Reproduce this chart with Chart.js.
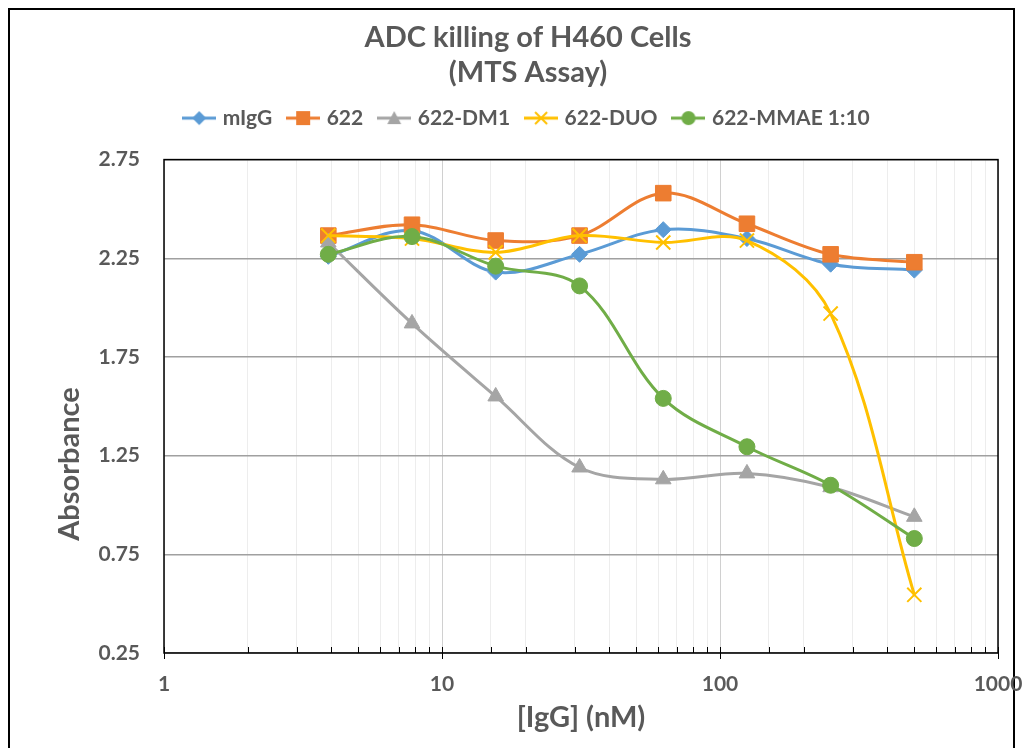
<!DOCTYPE html>
<html>
<head>
<meta charset="utf-8">
<title>ADC killing of H460 Cells</title>
<script src="https://cdn.jsdelivr.net/npm/chart.js@4.4.1/dist/chart.umd.min.js"></script>
<style>
  html, body { margin: 0; padding: 0; background: #fff; }
  #wrap { position: relative; width: 1023px; height: 748px; }
</style>
</head>
<body>
<div id="wrap"><canvas id="adcChart" width="1023" height="748"></canvas></div>
<script>
// concentrations of IgG (nM)
const concentrations = [3.9, 7.8, 15.6, 31.25, 62.5, 125, 250, 500];

// absorbance per series
const mIgG    = [2.26, 2.39, 2.18, 2.27, 2.395, 2.35, 2.22, 2.19];
const ab622   = [2.365, 2.42, 2.34, 2.365, 2.58, 2.425, 2.27, 2.23];
const ab622DM1  = [2.33, 1.92, 1.55, 1.19, 1.13, 1.16, 1.09, 0.94];
const ab622DUO  = [2.365, 2.35, 2.28, 2.365, 2.33, 2.34, 1.97, 0.545];
const ab622MMAE = [2.27, 2.36, 2.21, 2.11, 1.54, 1.295, 1.10, 0.83];

const seriesNames = ['mIgG', '622', '622-DM1', '622-DUO', '622-MMAE 1:10'];
const xTickLabels = [1, 10, 100, 1000];
const yTickValues = [0.25, 0.75, 1.25, 1.75, 2.25, 2.75];

const textGray = '#595959';
const fontFamily = 'Lato, "Open Sans", sans-serif';

function toPoints(values) {
    return concentrations.map((c, i) => ({ x: c, y: values[i] }));
}

// small legend icon: a line with the marker in the middle (like Excel)
function legendIcon(color, shape) {
    const c = document.createElement('canvas');
    c.width = 34;
    c.height = 20;
    const g = c.getContext('2d');
    g.strokeStyle = color;
    g.fillStyle = color;
    g.lineWidth = 3;
    g.beginPath();
    g.moveTo(0, 10);
    g.lineTo(34, 10);
    g.stroke();
    g.beginPath();
    if (shape === 'rectRot') {
        g.moveTo(17, 3); g.lineTo(24, 10); g.lineTo(17, 17); g.lineTo(10, 10);
        g.closePath(); g.fill();
    } else if (shape === 'rect') {
        g.fillRect(10, 3, 14, 14);
    } else if (shape === 'triangle') {
        g.moveTo(17, 3); g.lineTo(24, 16); g.lineTo(10, 16);
        g.closePath(); g.fill();
    } else if (shape === 'crossRot') {
        g.lineWidth = 2;
        g.moveTo(11, 4); g.lineTo(23, 16);
        g.moveTo(23, 4); g.lineTo(11, 16);
        g.stroke();
    } else {
        g.arc(17, 10, 7, 0, Math.PI * 2);
        g.fill();
    }
    return c;
}

const colors = ['#5B9BD5', '#ED7D31', '#A5A5A5', '#FFC000', '#70AD47'];
const shapes = ['rectRot', 'rect', 'triangle', 'crossRot', 'circle'];
const radii = [8, 11, 9, 10, 8];
const allValues = [mIgG, ab622, ab622DM1, ab622DUO, ab622MMAE];

const datasets = allValues.map((vals, i) => ({
    label: seriesNames[i],
    data: toPoints(vals),
    borderColor: colors[i],
    backgroundColor: colors[i],
    borderWidth: 3,
    pointStyle: shapes[i],
    pointRadius: radii[i],
    pointHoverRadius: radii[i],
    pointBorderWidth: shapes[i] === 'crossRot' ? 2 : 1,
    tension: 0.35,
    order: 5 - i // later series on top, like Excel
}));

// frame, plot border, minor ticks, y title and extra room under the legend
const extrasPlugin = {
    id: 'extras',
    beforeLayout(chart) {
        const lg = chart.legend;
        if (lg && !lg._extraRoom) {
            const origFit = lg.fit.bind(lg);
            lg.fit = function () { origFit(); this.height += 21; };
            lg._extraRoom = true;
        }
    },
    beforeDraw(chart) {
        const ctx = chart.ctx;
        ctx.save();
        ctx.fillStyle = '#fff';
        ctx.fillRect(0, 0, chart.width, chart.height);
        ctx.strokeStyle = '#000';
        ctx.lineWidth = 2;
        ctx.strokeRect(9, 9, chart.width - 18, chart.height + 20);
        ctx.restore();
    },
    beforeDatasetsDraw(chart) {
        const ctx = chart.ctx;
        const a = chart.chartArea;
        const xs = chart.scales.x;
        ctx.save();
        ctx.strokeStyle = '#000';
        ctx.lineWidth = 1.5;
        ctx.strokeRect(a.left, a.top, a.right - a.left, a.bottom - a.top);
        ctx.lineWidth = 1;
        xs.ticks.forEach(t => {
            const px = Math.round(xs.getPixelForValue(t.value)) + 0.5;
            const major = xTickLabels.includes(t.value);
            ctx.beginPath();
            ctx.moveTo(px, a.bottom - 6);
            ctx.lineTo(px, a.bottom + (major ? 6 : 0));
            ctx.stroke();
        });
        ctx.restore();
    },
    afterDraw(chart) {
        const ctx = chart.ctx;
        ctx.save();
        ctx.translate(70, 464);
        ctx.rotate(-Math.PI / 2);
        ctx.font = 'bold 29px ' + fontFamily;
        ctx.fillStyle = textGray;
        ctx.textAlign = 'center';
        ctx.textBaseline = 'middle';
        ctx.fillText('Absorbance', 0, 0);
        ctx.restore();
    }
};

const ctx = document.getElementById('adcChart').getContext('2d');
new Chart(ctx, {
    type: 'line',
    data: { datasets: datasets },
    plugins: [extrasPlugin],
    options: {
        responsive: false,
        animation: false,
        layout: { padding: { left: 58, right: 25, top: 0, bottom: 0 } },
        plugins: {
            title: {
                display: true,
                text: ['ADC killing of H460 Cells', '(MTS Assay)'],
                color: textGray,
                font: { family: fontFamily, size: 29, weight: 'bold', lineHeight: 1.2 },
                padding: { top: 20, bottom: 0 }
            },
            legend: {
                display: true,
                labels: {
                    color: textGray,
                    font: { family: fontFamily, size: 21, weight: 'bold' },
                    usePointStyle: true,
                    pointStyleWidth: 26,
                    boxHeight: 21,
                    padding: 18,
                    sort: (a, b) => a.datasetIndex - b.datasetIndex,
                    generateLabels(chart) {
                        const items = Chart.defaults.plugins.legend.labels.generateLabels(chart);
                        items.forEach(it => {
                            it.pointStyle = legendIcon(colors[it.datasetIndex], shapes[it.datasetIndex]);
                        });
                        return items;
                    }
                }
            },
            tooltip: { enabled: false }
        },
        scales: {
            x: {
                type: 'logarithmic',
                min: 1,
                max: 1000,
                afterFit(scale) {
                    scale.height = 95;
                    scale.paddingLeft = 0;
                    scale.paddingRight = 0;
                },
                border: { display: false },
                grid: {
                    drawTicks: false,
                    color: c => xTickLabels.includes(c.tick.value) ? '#D0D0D0' : '#EDEDED',
                    lineWidth: 1
                },
                ticks: {
                    autoSkip: false,
                    maxRotation: 0,
                    padding: 19,
                    color: textGray,
                    font: { family: fontFamily, size: 21, weight: 'bold' },
                    callback: v => xTickLabels.includes(v) ? String(v) : ''
                },
                title: {
                    display: true,
                    text: '[IgG] (nM)',
                    color: textGray,
                    font: { family: fontFamily, size: 29, weight: 'bold' },
                    padding: { top: 0, bottom: 13 }
                }
            },
            y: {
                min: 0.25,
                max: 2.75,
                afterFit(scale) { scale.width = 106; },
                afterBuildTicks(scale) { scale.ticks = yTickValues.map(v => ({ value: v })); },
                border: { display: false },
                grid: { drawTicks: false, color: '#A0A0A0', lineWidth: 1.5 },
                ticks: {
                    padding: 24,
                    color: textGray,
                    font: { family: fontFamily, size: 21, weight: 'bold' },
                    callback: v => v.toFixed(2)
                }
            }
        }
    }
});
</script>
</body>
</html>
